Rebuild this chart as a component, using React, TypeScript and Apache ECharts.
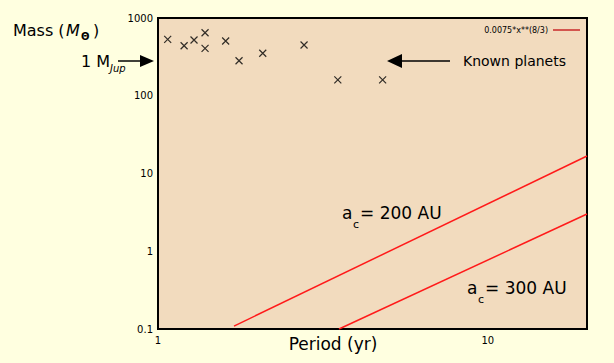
import React, { useEffect, useRef } from "react";
import * as echarts from "echarts";

// Known planets: period (yr), mass
const planetPeriods = [1.07, 1.2, 1.286, 1.389, 1.389, 1.604, 1.761, 2.078, 2.773, 3.51, 4.8];
const planetMasses = [532, 440, 521, 647, 407, 506, 282, 352, 450, 160, 160];

// Critical lines (period, mass) end points
const line200Periods = [1.7, 20];
const line200Masses = [0.109, 16.8];
const line300Periods = [3.54, 20];
const line300Masses = [0.1, 3.01];

const xTickLabels = ["1", "10"];
const yTickLabels = ["0.1", "1", "10", "100", "1000"];
const legendName = "0.0075*x**(8/3)";

const FONT = "DejaVu Sans";

export default function App() {
  const ref = useRef<HTMLDivElement>(null);
  useEffect(() => {
    if (!ref.current) return;
    const chart = echarts.init(ref.current, null, { renderer: "svg" });
    const txt = (x: number, y: number, text: string, size: number, extra: any = {}) => ({
      type: "text",
      x,
      y,
      style: {
        text,
        fontFamily: FONT,
        fontSize: size,
        fill: "#000",
        verticalAlign: "middle",
        align: "left",
        ...extra,
      },
    });
    chart.setOption({
      animation: false,
      backgroundColor: "#ffffe0",
      grid: {
        left: 158,
        right: 27,
        top: 18,
        bottom: 34,
        show: true,
        backgroundColor: "#f2dbbe",
        borderColor: "#000",
        borderWidth: 2,
      },
      legend: {
        right: 34,
        top: 26,
        padding: 0,
        align: "right",
        icon: "rect",
        itemWidth: 27,
        itemHeight: 1.5,
        itemGap: 4,
        textStyle: { fontSize: 8, fontFamily: FONT, color: "#000", padding: [0, 0, 0, 0] },
        data: [{ name: legendName, itemStyle: { color: "#c82828" } }],
      },
      xAxis: {
        type: "log",
        logBase: 10,
        min: 1,
        max: 20,
        axisLine: { show: false },
        axisTick: { show: false },
        splitLine: { show: false },
        axisLabel: {
          fontSize: 10,
          fontFamily: FONT,
          color: "#000",
          margin: 6,
          showMaxLabel: false,
          formatter: (v: number) => {
            const s = String(Math.round(v * 1000) / 1000);
            return xTickLabels.includes(s) ? s : "";
          },
        },
      },
      yAxis: {
        type: "log",
        logBase: 10,
        min: 0.1,
        max: 1000,
        axisLine: { show: false },
        axisTick: { show: false },
        splitLine: { show: false },
        axisLabel: {
          fontSize: 10,
          fontFamily: FONT,
          color: "#000",
          margin: 5,
          formatter: (v: number) => {
            const s = String(Math.round(v * 1000) / 1000);
            return yTickLabels.includes(s) ? s : "";
          },
        },
      },
      series: [
        {
          name: legendName,
          type: "line",
          data: line200Periods.map((p, i) => [p, line200Masses[i]]),
          showSymbol: false,
          symbol: "none",
          lineStyle: { color: "#ff1a1a", width: 1.5 },
          itemStyle: { color: "#ff1a1a" },
        },
        {
          name: "300 AU",
          type: "line",
          data: line300Periods.map((p, i) => [p, line300Masses[i]]),
          showSymbol: false,
          symbol: "none",
          lineStyle: { color: "#ff1a1a", width: 1.5 },
          itemStyle: { color: "#ff1a1a" },
        },
        {
          name: "Known planets",
          type: "scatter",
          data: planetPeriods.map((p, i) => [p, planetMasses[i]]),
          symbol: "path://M0,0L10,10M10,0L0,10",
          symbolSize: 7,
          itemStyle: { color: "transparent", borderColor: "#000", borderWidth: 1.2 },
        },
      ],
      graphic: [
        // y axis title
        txt(13, 30, "Mass (", 16),
        txt(66, 30, "M", 16, { fontStyle: "italic" }),
        txt(81, 36, "Θ", 10, { fontWeight: "bold" }),
        txt(93, 30, ")", 16),
        // x axis title
        txt(333, 344, "Period (yr)", 17, { align: "center" }),
        // 1 MJup arrow
        txt(81, 61, "1 M", 16),
        txt(110, 68, "Jup", 10, { fontStyle: "italic" }),
        { type: "line", shape: { x1: 118, y1: 61, x2: 142, y2: 61 }, style: { stroke: "#000", lineWidth: 1.5 } },
        { type: "polygon", shape: { points: [[140, 55], [154, 61], [140, 67]] }, style: { fill: "#000" } },
        // Known planets arrow
        { type: "line", shape: { x1: 398, y1: 61, x2: 450, y2: 61 }, style: { stroke: "#000", lineWidth: 1.5 } },
        { type: "polygon", shape: { points: [[387, 61], [402, 54], [402, 68]] }, style: { fill: "#000" } },
        txt(463, 61, "Known planets", 14),
        // a_c = 200 AU
        txt(342, 213, "a", 17),
        txt(353, 224, "c", 11),
        txt(360, 213, "= 200 AU", 17),
        // a_c = 300 AU
        txt(467, 288, "a", 17),
        txt(478, 299, "c", 11),
        txt(485, 288, "= 300 AU", 17),
      ],
    });
    return () => chart.dispose();
  }, []);
  return (
    <div
      ref={ref}
      style={{ position: "absolute", left: 0, top: 0, width: 614, height: 363 }}
    />
  );
}
